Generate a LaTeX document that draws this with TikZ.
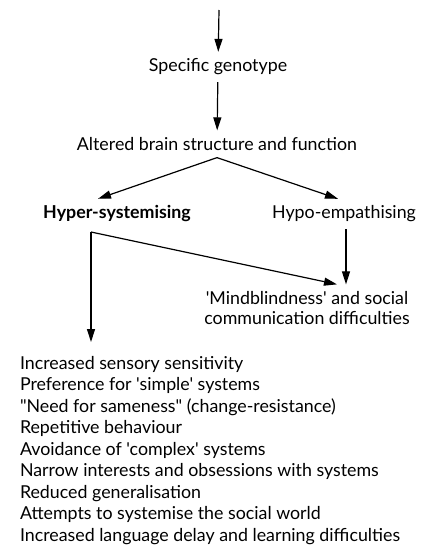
\documentclass[tikz,border=0pt]{standalone}
\usepackage{fontspec}
\setmainfont{Lato}[Ligatures=TeXOff]
\usetikzlibrary{arrows.meta}

\tikzset{
  flowtext/.style={font=\fontsize{17.8}{20}\selectfont, inner sep=2pt, outer sep=5pt},
  flowarrow/.style={line width=1.2pt, -{Triangle[length=13pt,width=8pt]}},
}

\begin{document}
\begin{tikzpicture}[x=1pt, y=-1pt]
  \useasboundingbox (0,0) rectangle (427,546);
  \coordinate (top) at (219,10);
  \node[flowtext] (genotype) at (218,67) {Specific genotype};
  \node[flowtext] (brain) at (217,144) {Altered brain structure and function};
  \node[flowtext, font=\fontsize{17.8}{20}\selectfont\bfseries] (hyper) at (117,214) {Hyper-systemising};
  \node[flowtext] (hypo) at (344,214) {Hypo-empathising};
  \node[flowtext, align=center] (mind) at (307,308) {'Mindblindness' and social\\communication difficulties};
  \coordinate (split) at (91,232);
  \node[flowtext, align=left, anchor=north west, font=\fontsize{17.8}{21.5}\selectfont] (traits) at (13,349) {%
    Increased sensory sensitivity\\
    Preference for 'simple' systems\\
    "Need for sameness" (change-resistance)\\
    Repetitive behaviour\\
    Avoidance of 'complex' systems\\
    Narrow interests and obsessions with systems\\
    Reduced generalisation\\
    Attempts to systemise the social world\\
    Increased language delay and learning difficulties};

  \draw[flowarrow] (top) -- (genotype);
  \draw[flowarrow] (genotype) -- (brain);
  \draw[flowarrow] (brain.south) -- ([xshift=-19pt]hyper.north);
  \draw[flowarrow] (brain.south) -- ([xshift=-6pt]hypo.north);
  \draw[flowarrow] (split) -- ([yshift=7pt]traits.north -| split);
  \draw[flowarrow] (split) -- ([xshift=30pt]mind.north);
  \draw[flowarrow] ([xshift=2pt]hypo.south) -- ([xshift=2pt]hypo.south |- mind.north);
\end{tikzpicture}
\end{document}
